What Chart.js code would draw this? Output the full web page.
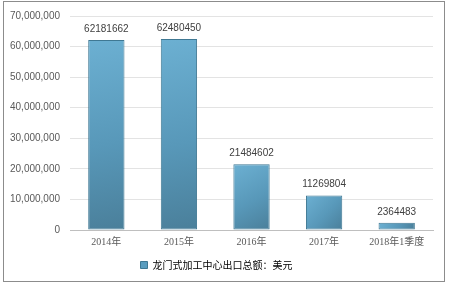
<!DOCTYPE html>
<html>
<head>
<meta charset="utf-8">
<script src="https://cdn.jsdelivr.net/npm/chart.js@4"></script>
<style>
  html, body { margin: 0; padding: 0; background: #fff; }
  #wrap { width: 450px; height: 287px; }
</style>
</head>
<body>
<div id="wrap"><canvas id="myChart" width="450" height="287"></canvas></div>
<script>
var categorias = ['2014年', '2015年', '2016年', '2017年', '2018年1季度'];
var montos = [62181662, 62480450, 21484602, 11269804, 2364483];
var etiquetaSerie = '龙门式加工中心出口总额：美元';
var ticksY = [0, 10000000, 20000000, 30000000, 40000000, 50000000, 60000000, 70000000];

// degradado diagonal de cada barra, calculado con las escalas del grafico
function degradado(context){
  var chart = context.chart;
  if(!chart.chartArea || context.type !== 'data'){ return '#5a9dbf'; }
  var sx = chart.scales.x, sy = chart.scales.y;
  var i = context.dataIndex;
  var cx = sx.getPixelForValue(i);
  var mitad = sx.width / categorias.length / 4;
  var top = sy.getPixelForValue(montos[i]);
  var base = sy.getPixelForValue(0);
  var g = chart.ctx.createLinearGradient(cx - mitad, top, cx + mitad, base);
  g.addColorStop(0, '#6cb0d2');
  g.addColorStop(0.55, '#5898b9');
  g.addColorStop(1, '#4a7f9a');
  return g;
}

// marco exterior y valores encima de las barras
var extras = {
  id: 'extras',
  afterDatasetsDraw: function(chart){
    var ctx = chart.ctx;
    var meta = chart.getDatasetMeta(0);
    ctx.save();
    ctx.font = '10px "Liberation Sans", "DejaVu Sans", sans-serif';
    ctx.fillStyle = '#404040';
    ctx.textAlign = 'center';
    ctx.textBaseline = 'bottom';
    for(var i=0; i<meta.data.length; i++){
      var b = meta.data[i];
      ctx.fillText(String(montos[i]), b.x, b.y - 6);
    }
    ctx.restore();
  },
  afterDraw: function(chart){
    var ctx = chart.ctx;
    ctx.save();
    ctx.strokeStyle = '#8c8c8c';
    ctx.lineWidth = 1;
    ctx.strokeRect(3.5, 1.5, 441, 280);
    ctx.restore();
  }
};

const ctx = document.getElementById('myChart');
new Chart(ctx, {
  type: 'bar',
  data: {
    labels: categorias,
    datasets: [{
      label: etiquetaSerie,
      data: montos,
      backgroundColor: degradado,
      borderColor: '#3f7893',
      borderWidth: 1,
      borderSkipped: false,
      barPercentage: 0.5,
      categoryPercentage: 1
    }]
  },
  options: {
    responsive: false,
    animation: false,
    devicePixelRatio: 1,
    layout: { padding: { left: 0, right: 17, top: 10, bottom: 7 } },
    plugins: {
      legend: {
        position: 'bottom',
        labels: {
          boxWidth: 7,
          boxHeight: 7,
          color: '#7a7a7a',
          font: { size: 10, family: '"Noto Sans CJK SC", sans-serif' },
          padding: 6,
          generateLabels: function(chart){
            return [{
              text: etiquetaSerie,
              fillStyle: '#5a9dbf',
              strokeStyle: '#3f7893',
              lineWidth: 1,
              datasetIndex: 0
            }];
          }
        }
      },
      tooltip: { enabled: false }
    },
    scales: {
      x: {
        grid: { display: false, drawTicks: false },
        border: { color: '#bfbfbf' },
        ticks: {
          color: '#595959',
          padding: 6,
          font: { size: 10, family: '"Liberation Serif", "Noto Sans CJK SC", serif' }
        }
      },
      y: {
        min: 0,
        max: 70000000,
        afterBuildTicks: function(axis){
          axis.ticks = ticksY.map(function(v){ return { value: v }; });
        },
        grid: { color: '#e3e3e3', drawTicks: false },
        border: { display: false },
        ticks: {
          color: '#595959',
          padding: 10,
          font: { size: 10, family: '"Liberation Sans", sans-serif' },
          callback: function(v){ return v.toLocaleString('en-US'); }
        }
      }
    }
  },
  plugins: [extras]
});
</script>
</body>
</html>
